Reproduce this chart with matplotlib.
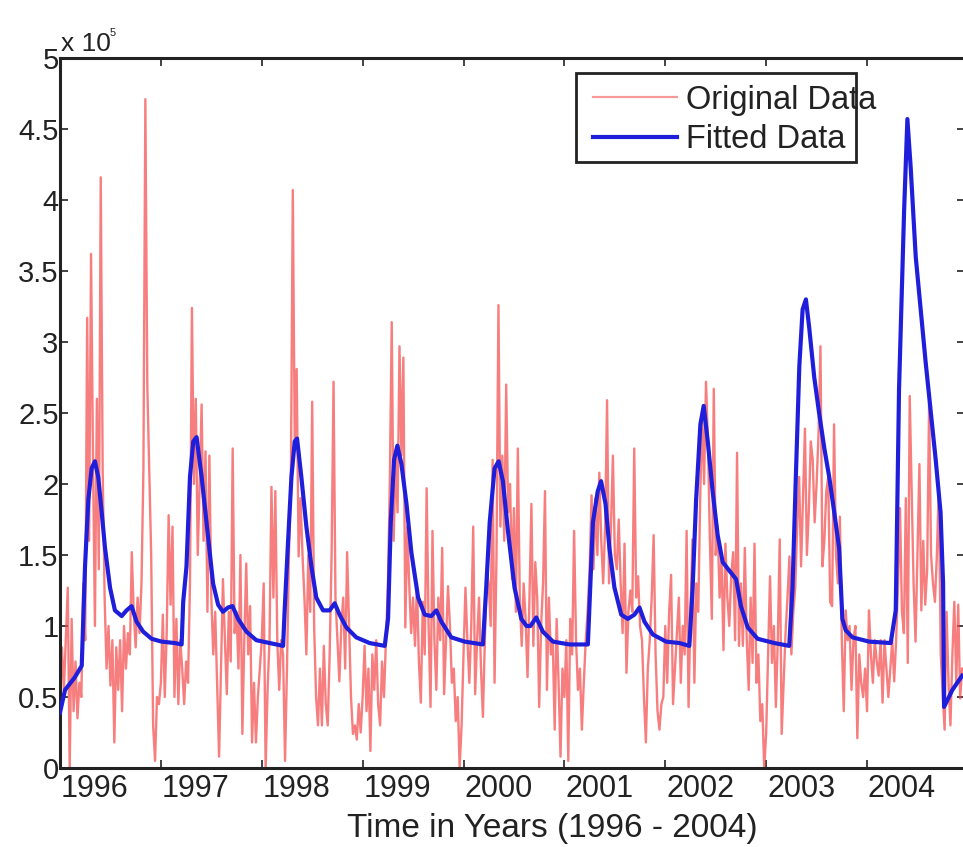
import numpy as np
import matplotlib
matplotlib.use("Agg")
import matplotlib.pyplot as plt
from matplotlib.patches import Rectangle

# ---------------- data (values in units of 1e5, weekly) ----------------
orig_y0 = [0.45, 0.85, 0.55, 0.9, 1.27, 0.0, 1.05, 0.4, 0.75, 0.35, 0.6, 0.5, 1.3, 0.9,
           3.17, 1.6, 3.62, 2.2, 1.0, 2.6, 1.4, 4.16, 2.1, 1.2, 0.7, 1.0, 0.58, 0.9, 0.18,
           0.85, 0.55, 0.9, 0.4, 1.0, 0.7, 0.95, 0.8, 1.52, 1.1, 0.85, 1.2, 0.95, 1.3, 2.1,
           4.71, 2.7, 2.1, 1.5, 0.3, 0.05, 0.5, 0.45]
orig_y1 = [0.6, 1.08, 0.5, 0.95, 1.78, 1.15, 1.7, 0.5, 1.05, 0.45, 0.9, 0.7, 0.45, 0.75,
           0.6, 1.3, 3.24, 2.0, 2.6, 1.5, 2.0, 2.56, 1.6, 2.23, 1.1, 2.2, 1.2, 0.8, 1.1,
           0.6, 0.08, 0.7, 1.33, 0.9, 0.52, 1.1, 0.75, 2.25, 0.95, 1.1, 0.7, 1.5, 0.24,
           0.9, 1.44, 0.8, 1.14, 0.18, 0.6, 0.18, 0.5, 0.7]
orig_y2 = [0.9, 1.3, 0.0, 0.55, 0.9, 1.98, 1.2, 1.95, 0.9, 0.55, 0.9, 0.8, 0.05, 0.7,
           1.5, 2.0, 4.07, 2.3, 2.81, 1.49, 1.9, 1.5, 1.2, 0.8, 1.5, 1.1, 2.58, 1.0, 0.5,
           0.3, 0.7, 0.3, 0.86, 0.45, 0.3, 0.8, 1.5, 2.72, 1.2, 0.9, 0.61, 1.0, 1.2, 0.7,
           1.52, 1.0, 0.5, 0.24, 0.3, 0.2, 0.45, 0.25]
orig_y3 = [0.5, 0.86, 0.4, 0.7, 0.12, 0.8, 0.55, 0.9, 0.45, 0.3, 0.75, 0.5, 0.9, 1.27,
           2.0, 3.14, 1.6, 2.2, 1.8, 2.97, 2.2, 2.89, 0.99, 1.7, 1.3, 0.95, 1.2, 0.86, 1.3,
           0.75, 0.46, 1.17, 0.8, 1.97, 1.0, 0.43, 1.67, 0.9, 0.55, 1.2, 0.9, 1.55, 0.52,
           0.9, 1.28, 1.0, 0.6, 0.7, 0.33, 0.5, 0.0, 0.3]
orig_y4 = [0.8, 1.27, 0.9, 0.6, 1.0, 1.7, 0.52, 0.9, 1.2, 0.7, 0.36, 0.9, 1.39, 1.3,
           1.0, 2.17, 0.6, 1.5, 3.26, 1.7, 2.2, 1.6, 2.7, 1.8, 2.0, 1.33, 1.83, 1.1, 2.25,
           1.2, 0.86, 1.3, 1.05, 0.64, 1.2, 1.86, 0.86, 1.45, 1.2, 0.43, 1.0, 1.3, 1.95,
           0.55, 1.2, 0.8, 0.9, 0.27, 1.05, 0.6, 0.08, 0.7]
orig_y5 = [0.5, 0.9, 0.05, 1.05, 0.8, 1.67, 0.9, 0.55, 0.7, 0.27, 0.6, 0.9, 1.11, 1.4,
           1.92, 1.4, 1.9, 1.5, 2.08, 1.6, 1.3, 1.7, 2.59, 1.3, 1.7, 2.2, 1.5, 1.4, 1.75,
           1.3, 0.95, 1.58, 0.67, 1.1, 1.25, 1.1, 2.25, 1.2, 1.35, 1.0, 0.9, 0.5, 0.18,
           0.7, 0.9, 1.2, 1.64, 0.8, 0.4, 0.27, 0.45, 0.5]
orig_y6 = [1.0, 0.6, 1.1, 1.36, 0.45, 0.7, 0.95, 1.2, 0.6, 1.0, 0.8, 1.67, 0.43, 1.1,
           1.61, 0.6, 1.3, 1.1, 1.9, 2.51, 2.0, 2.72, 2.3, 1.6, 1.05, 2.67, 1.5, 1.7, 1.2,
           1.48, 0.83, 1.58, 1.2, 1.0, 1.36, 1.52, 0.9, 2.22, 0.86, 1.3, 0.86, 1.55, 0.9,
           0.55, 1.2, 0.74, 1.58, 0.6, 0.8, 0.33, 0.45, 0.0]
orig_y7 = [0.24, 0.8, 1.35, 0.74, 1.0, 0.43, 0.9, 1.61, 0.24, 0.6, 0.95, 1.2, 1.49, 0.8,
           1.1, 1.27, 1.7, 2.05, 1.42, 1.9, 2.39, 1.5, 1.81, 2.3, 2.17, 1.73, 2.0, 2.35,
           2.97, 1.42, 1.6, 1.95, 2.05, 1.17, 1.14, 2.42, 1.5, 1.3, 1.77, 0.9, 0.4, 1.11,
           0.9, 1.0, 0.55, 0.9, 1.0, 0.21, 0.8, 0.6, 0.5, 0.7]
orig_y8 = [0.4, 1.11, 0.8, 0.6, 0.9, 0.75, 0.65, 0.9, 0.46, 0.9, 0.7, 0.5, 0.7, 0.9,
           0.61, 0.9, 1.3, 1.83, 1.1, 0.95, 1.9, 0.74, 2.62, 1.95, 1.3, 0.89, 1.5, 2.14,
           1.11, 1.6, 1.15, 1.4, 2.58, 1.5, 1.3, 1.17, 1.5, 1.98, 0.8, 0.52, 0.27, 1.1,
           0.6, 0.3, 0.8, 1.17, 0.6, 1.15, 0.49, 0.7]

fit_weeks = [0, 2.6, 7.7, 11.2, 12.9, 14.6, 16.3, 18, 19.7, 21.5, 23.2, 25.8, 28.3, 31.8,
             34.3, 36.9, 39.5, 42.9, 47.2, 52.4, 59.2, 62.7, 63.5, 65.2, 67, 68.7, 70.4,
             73, 75.5, 78.9, 81.5, 84, 86.6, 88.9, 91.8, 96.1, 101.2, 108.1, 115, 115.8,
             117.5, 119.3, 121, 122.2, 124.4, 127, 129.6, 132.1, 135.6, 139, 141.6, 144.1,
             147.6, 152.7, 159.6, 167.4, 169.1, 170.5, 172.2, 173.9, 176, 178.6, 181.1,
             184.6, 188, 191.4, 194, 196.6, 201.7, 208.6, 218, 219.7, 221.5, 224, 226.1,
             228.3, 230.9, 234.3, 237.8, 240.5, 242.5, 245.5, 248.9, 254.1, 262.6, 272.1,
             273, 274.7, 277.2, 278.9, 281.2, 283.2, 285.8, 289.3, 292.7, 296.1, 298.7,
             301.3, 305.6, 312.4, 319.3, 324.4, 326.1, 327.9, 330.1, 331.8, 333.9, 336.4,
             339, 341.6, 345, 348.5, 351, 354.5, 359.6, 368.2, 375.9, 377.6, 379.3, 381.1,
             382.8, 384.5, 386.2, 388.8, 391.3, 394, 396.5, 399.1, 401.6, 403.3, 405,
             408.5, 417.1, 428.2, 430.8, 432.5, 435.1, 436.8, 438.5, 441.1, 446.2, 451.4,
             453.9, 455.2, 455.7, 460, 465]
fit_vals = [0.39, 0.55, 0.64, 0.72, 1.42, 1.89, 2.11, 2.16, 2.05, 1.8, 1.55, 1.27, 1.11, 1.07,
            1.11, 1.14, 1.03, 0.96, 0.91, 0.89, 0.88, 0.87, 1.17, 1.42, 2.05, 2.3, 2.33,
            2.05, 1.73, 1.3, 1.15, 1.1, 1.13, 1.14, 1.05, 0.96, 0.9, 0.88, 0.86, 1.11,
            1.58, 2.05, 2.3, 2.32, 2.05, 1.7, 1.42, 1.2, 1.11, 1.11, 1.16, 1.08,
            0.99, 0.92, 0.88, 0.86, 1.05, 1.73, 2.17, 2.27, 2.14, 1.86, 1.52,
            1.2, 1.08, 1.07, 1.11, 1.03, 0.92, 0.89, 0.87, 1.27, 1.73, 2.11, 2.16,
            2.02, 1.67, 1.27, 1.05, 1.0, 1.0, 1.06, 0.96, 0.89, 0.87, 0.87,
            1.17, 1.73, 1.95, 2.02, 1.86, 1.55, 1.27, 1.08, 1.05, 1.08, 1.13,
            1.03, 0.94, 0.89, 0.88, 0.86, 1.27, 1.89, 2.42, 2.55, 2.3, 1.95,
            1.64, 1.45, 1.39, 1.33, 1.14, 0.99, 0.91, 0.88, 0.86, 1.27, 2.05, 2.83,
            3.23, 3.3, 3.1, 2.75, 2.5, 2.25, 2.05, 1.8, 1.55, 1.05, 0.97,
            0.92, 0.89, 0.88, 1.11, 2.67, 3.92, 4.57, 4.23, 3.6, 2.86, 2.17,
            1.8, 1.3, 0.43, 0.55, 0.65]

year_labels = ["1996", "1997", "1998", "1999", "2000", "2001", "2002", "2003", "2004"]
y_ticks = [0, 0.5, 1, 1.5, 2, 2.5, 3, 3.5, 4, 4.5, 5]
y_tick_labels = ["0", "0.5", "1", "1.5", "2", "2.5", "3", "3.5", "4", "4.5", "5"]
series_names = ["Original Data", "Fitted Data"]
x_label = "Time in Years (1996 - 2004)"

# ---------------- plotting ----------------
plt.rcParams['font.family'] = ['Liberation Sans', 'DejaVu Sans']
W, H = 963, 847
fig = plt.figure(figsize=(W / 100, H / 100), dpi=100)
fig.patch.set_facecolor('white')
L, R, T, B = 60, 965, 58, 768
ax = fig.add_axes([L / W, 1 - B / H, (R - L) / W, (B - T) / H])

orig = np.concatenate([orig_y0, orig_y1, orig_y2, orig_y3, orig_y4,
                       orig_y5, orig_y6, orig_y7, orig_y8])
weeks = np.arange(len(orig))

red = (0.96, 0.28, 0.28)
blue = (0.12, 0.12, 0.86)
ax.plot(weeks, orig, color=red, lw=1.7, alpha=0.7, zorder=2)
ax.plot(fit_weeks, fit_vals, color=blue, lw=3.0, zorder=3, solid_joinstyle='round')

ax.set_xlim(0, 466.5)
ax.set_ylim(0, 5)

tick_col = '#222222'
ax.set_yticks(y_ticks)
ax.set_yticklabels(y_tick_labels)
year_ticks = [52 * k for k in range(1, 9)]
ax.set_xticks(year_ticks)
ax.set_xticklabels([])
ax.set_xticks([18 + 52 * k for k in range(len(year_labels))], minor=True)
ax.set_xticklabels(year_labels, minor=True)
ax.tick_params(axis='x', which='minor', length=0, pad=4, labelsize=22, colors=tick_col)
ax.tick_params(axis='both', which='major', direction='in', length=6, width=1.2,
               top=True, right=True, labelsize=21, colors=tick_col)
ax.tick_params(axis='y', pad=1)
for sp in ax.spines.values():
    sp.set_linewidth(2.2)
    sp.set_color('#222222')

ax.set_xlabel(x_label, fontsize=24, color=tick_col)
ax.xaxis.set_label_coords((552 - L) / (R - L), (B - 828) / (B - T))
ax.xaxis.label.set_verticalalignment('center')

# exponent label
fig.text(61 / W, 1 - 51 / H, "x 10", fontsize=19, color=tick_col, ha='left', va='baseline')
fig.text(110 / W, 1 - 36 / H, "5", fontsize=8, color=tick_col, ha='left', va='baseline')

# legend (drawn manually, MATLAB style)
def axf(px, py):
    return ((px - L) / (R - L), (B - py) / (B - T))

bx0, by1 = axf(576, 73)
bx1, by0 = axf(856, 162)
ax.add_patch(Rectangle((bx0, by0), bx1 - bx0, by1 - by0, transform=ax.transAxes,
                       facecolor='white', edgecolor='#222222', lw=2.0, zorder=5))
for i, (name, col, lw, al) in enumerate([(series_names[0], red, 1.6, 0.55),
                                         (series_names[1], blue, 3.0, 1.0)]):
    ly = [97, 137][i]
    x0, yy = axf(593, ly)
    x1, _ = axf(677, ly)
    ax.plot([x0, x1], [yy, yy], transform=ax.transAxes, color=col, lw=lw, alpha=al,
            zorder=6, clip_on=False)
    tx, ty = axf(686, ly + 3)
    ax.text(tx, ty, name, transform=ax.transAxes, fontsize=23.5, color=tick_col,
            ha='left', va='center', zorder=7)

fig.savefig("out.png", dpi=100, facecolor='white')
